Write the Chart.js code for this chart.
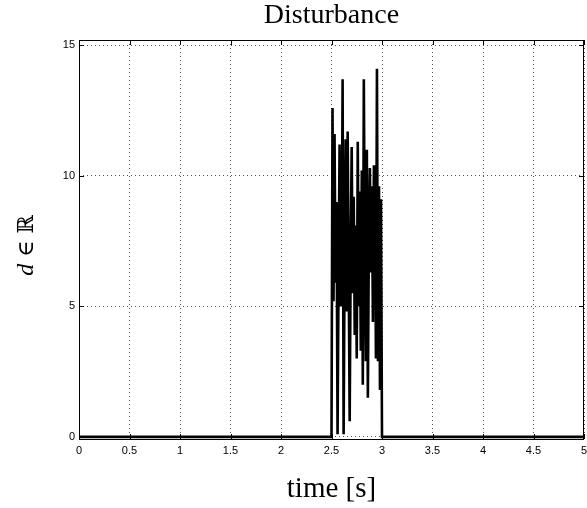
<!DOCTYPE html>
<html>
<head>
<meta charset="utf-8">
<script src="https://cdn.jsdelivr.net/npm/chart.js@4.4.1/dist/chart.umd.min.js"></script>
<style>
  html, body { margin: 0; padding: 0; background: #fff; }
  #wrap { width: 587px; height: 508px; position: relative; }
</style>
</head>
<body>
<div id="wrap"><canvas id="c" width="587" height="508"></canvas></div>
<script>
// ---- data ----
const times = [0, 2.50, 2.51, 2.52, 2.53, 2.54, 2.55, 2.56, 2.57, 2.58, 2.59,
  2.60, 2.61, 2.62, 2.63, 2.64, 2.65, 2.66, 2.67, 2.68, 2.69,
  2.70, 2.71, 2.72, 2.73, 2.74, 2.75, 2.76, 2.77, 2.78, 2.79,
  2.80, 2.81, 2.82, 2.83, 2.84, 2.85, 2.86, 2.87, 2.88, 2.89,
  2.90, 2.91, 2.92, 2.93, 2.94, 2.95, 2.96, 2.97, 2.98, 2.99, 3.00, 5];
const disturbance = [0, 0, 12.6, 5.2, 11.6, 5.9, 9.0, 0.1, 6.2, 11.2, 5.0,
  5.8, 13.7, 0.1, 6.8, 11.4, 4.8, 11.7, 6.5, 0.6, 7.0,
  11.1, 5.5, 9.2, 3.9, 8.1, 3.0, 11.3, 5.0, 9.4, 3.3,
  10.2, 2.0, 13.7, 6.8, 2.9, 11.0, 1.5, 7.5, 10.3, 6.3,
  9.6, 4.4, 10.4, 9.5, 3.0, 14.1, 2.9, 9.6, 1.8, 9.1, 0, 0];
const xTicks = [0, 0.5, 1, 1.5, 2, 2.5, 3, 3.5, 4, 4.5, 5];
const yTicks = [0, 5, 10, 15];
const titleText = 'Disturbance';
const xLabel = 'time [s]';

const points = times.map((t, i) => ({ x: t, y: disturbance[i] }));

const framePlugin = {
  id: 'frame',
  afterDraw(chart) {
    const { ctx, chartArea: a, scales } = chart;
    ctx.save();
    ctx.strokeStyle = '#000';
    ctx.lineWidth = 1;
    ctx.strokeRect(a.left + 0.5, a.top + 0.5, a.right - a.left - 1, a.bottom - a.top);
    const tl = 5;
    ctx.beginPath();
    xTicks.forEach(v => {
      const px = Math.round(scales.x.getPixelForValue(v)) + 0.5;
      ctx.moveTo(px, a.bottom); ctx.lineTo(px, a.bottom - tl);
      ctx.moveTo(px, a.top); ctx.lineTo(px, a.top + tl);
    });
    yTicks.forEach(v => {
      const py = Math.round(scales.y.getPixelForValue(v)) + 0.5;
      ctx.moveTo(a.left, py); ctx.lineTo(a.left + tl, py);
      ctx.moveTo(a.right, py); ctx.lineTo(a.right - tl, py);
    });
    ctx.stroke();
    // title
    ctx.fillStyle = '#000';
    ctx.textAlign = 'center';
    ctx.textBaseline = 'alphabetic';
    ctx.font = "28px 'Liberation Serif', 'DejaVu Serif', serif";
    ctx.fillText(titleText, (a.left + a.right) / 2, 23);
    // y label: d ∈ ℝ (rotated)
    ctx.translate(33, (a.top + a.bottom) / 2 + 6);
    ctx.rotate(-Math.PI / 2);
    const f1 = "italic 24px 'Liberation Serif', 'DejaVu Serif', serif";
    const f2 = "22px 'DejaVu Serif', 'Liberation Serif', serif";
    ctx.font = f1; const w1 = ctx.measureText('d').width;
    ctx.font = f2; const w2 = ctx.measureText(' \u2208 \u211D').width;
    const start = -(w1 + w2) / 2;
    ctx.textAlign = 'left';
    ctx.font = f1; ctx.fillText('d', start, 0);
    ctx.font = f2; ctx.fillText(' \u2208 \u211D', start + w1, 0);
    ctx.restore();
  }
};

new Chart(document.getElementById('c'), {
  type: 'scatter',
  data: {
    datasets: [{
      label: 'd',
      data: points,
      showLine: true,
      borderColor: '#000',
      backgroundColor: '#000',
      borderWidth: 2.6,
      pointRadius: 0,
      tension: 0
    }]
  },
  options: {
    responsive: false,
    animation: false,
    devicePixelRatio: 1,
    layout: { padding: { top: 40, right: 3, left: 0, bottom: 0 } },
    plugins: { legend: { display: false }, tooltip: { enabled: false }, title: { display: false } },
    scales: {
      x: {
        type: 'linear', min: 0, max: 5,
        afterBuildTicks: s => { s.ticks = xTicks.map(v => ({ value: v })); },
        afterFit: s => { s.height = 69; s.paddingLeft = 0; s.paddingRight = 0; },
        ticks: { color: '#000', font: { family: "'Liberation Sans', Arial, sans-serif", size: 11 }, padding: 5, maxRotation: 0, autoSkip: false,
          callback: v => String(v) },
        grid: { color: '#555', lineWidth: 1, tickLength: 0, drawTicks: false },
        border: { display: false, dash: [1, 3] },
        title: { display: true, text: xLabel, color: '#000', font: { family: "'Liberation Serif', 'DejaVu Serif', serif", size: 29 }, padding: { top: 0, bottom: 1 } }
      },
      y: {
        type: 'linear', min: -0.08, max: 15.2,
        afterBuildTicks: s => { s.ticks = yTicks.map(v => ({ value: v })); },
        afterFit: s => { s.width = 79; },
        ticks: { color: '#000', font: { family: "'Liberation Sans', Arial, sans-serif", size: 11 }, padding: 4,
          callback: v => String(v) },
        grid: { color: '#555', lineWidth: 1, tickLength: 0, drawTicks: false },
        border: { display: false, dash: [1, 3] }
      }
    }
  },
  plugins: [framePlugin]
});
</script>
</body>
</html>
